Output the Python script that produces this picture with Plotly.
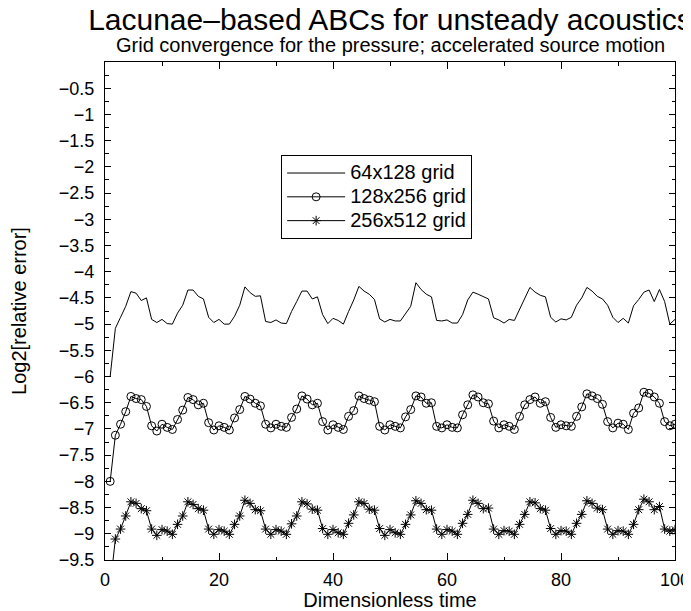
import numpy as np
import plotly.graph_objects as go

# time samples (dimensionless time), 110 samples up to t = 100
time = np.linspace(10 / 11, 100, 110)

grid_64x128 = [
    -6.00, -5.08, -4.87, -4.66, -4.38, -4.41, -4.55, -4.50, -4.91, -4.97, -4.91,
    -4.99, -5.00, -4.79, -4.64, -4.35, -4.35, -4.47, -4.52, -4.87, -4.97, -4.91,
    -5.00, -5.00, -4.85, -4.64, -4.29, -4.40, -4.47, -4.46, -4.95, -4.97, -4.92,
    -4.98, -4.99, -4.76, -4.57, -4.37, -4.37, -4.52, -4.48, -4.82, -4.99, -4.89,
    -4.93, -5.00, -4.76, -4.54, -4.28, -4.37, -4.43, -4.53, -4.90, -4.96, -4.91,
    -4.94, -4.94, -4.79, -4.66, -4.21, -4.34, -4.43, -4.48, -4.93, -4.94, -4.92,
    -4.98, -4.98, -4.82, -4.54, -4.39, -4.43, -4.47, -4.52, -4.88, -4.92, -4.98,
    -4.91, -4.93, -4.73, -4.51, -4.30, -4.39, -4.45, -4.48, -4.87, -4.96, -4.90,
    -4.92, -4.87, -4.64, -4.50, -4.30, -4.37, -4.47, -4.52, -4.64, -4.87, -4.97,
    -4.89, -4.98, -4.65, -4.53, -4.39, -4.35, -4.57, -4.34, -4.57, -5.00, -4.91,
]

grid_128x256 = [
    -8.00, -7.12, -6.91, -6.67, -6.38, -6.42, -6.44, -6.57, -6.94, -7.04, -6.91,
    -6.97, -7.01, -6.82, -6.64, -6.40, -6.44, -6.54, -6.51, -6.88, -7.02, -6.94,
    -6.97, -7.02, -6.79, -6.63, -6.38, -6.43, -6.51, -6.56, -6.91, -6.98, -6.91,
    -6.95, -6.97, -6.78, -6.62, -6.37, -6.43, -6.54, -6.51, -6.86, -7.02, -6.92,
    -6.97, -7.01, -6.76, -6.65, -6.37, -6.42, -6.45, -6.48, -6.95, -7.02, -6.92,
    -6.95, -6.98, -6.77, -6.63, -6.37, -6.39, -6.51, -6.50, -6.95, -6.98, -6.92,
    -6.97, -6.98, -6.73, -6.54, -6.35, -6.39, -6.50, -6.52, -6.85, -6.98, -6.92,
    -6.95, -7.01, -6.76, -6.54, -6.44, -6.39, -6.51, -6.48, -6.78, -6.97, -6.92,
    -6.94, -6.95, -6.76, -6.58, -6.33, -6.37, -6.42, -6.53, -6.86, -6.98, -6.89,
    -6.91, -7.01, -6.70, -6.60, -6.30, -6.32, -6.39, -6.51, -6.86, -6.94, -6.91,
]

grid_256x512 = [
    -10.00, -9.10, -8.91, -8.66, -8.39, -8.42, -8.52, -8.56, -8.91, -9.03, -8.92,
    -8.95, -9.01, -8.82, -8.66, -8.39, -8.44, -8.52, -8.55, -8.91, -9.01, -8.92,
    -8.95, -9.01, -8.82, -8.66, -8.36, -8.42, -8.54, -8.56, -8.91, -9.01, -8.92,
    -8.95, -9.01, -8.81, -8.66, -8.39, -8.43, -8.53, -8.55, -8.90, -9.01, -8.92,
    -8.98, -9.01, -8.80, -8.64, -8.39, -8.42, -8.53, -8.55, -8.90, -9.03, -8.92,
    -8.98, -9.01, -8.82, -8.64, -8.37, -8.42, -8.54, -8.55, -8.91, -9.01, -8.92,
    -8.95, -9.01, -8.80, -8.63, -8.36, -8.42, -8.52, -8.51, -8.91, -9.01, -8.94,
    -8.95, -9.01, -8.82, -8.63, -8.39, -8.41, -8.52, -8.55, -8.90, -9.01, -8.94,
    -8.95, -9.01, -8.80, -8.63, -8.37, -8.42, -8.51, -8.54, -8.91, -9.01, -8.94,
    -8.95, -9.01, -8.82, -8.54, -8.34, -8.39, -8.54, -8.48, -8.91, -8.95, -8.92,
]

series_names = ["64x128 grid", "128x256 grid", "256x512 grid"]
y_tick_values = [-9.5, -9, -8.5, -8, -7.5, -7, -6.5, -6, -5.5, -5, -4.5, -4,
                 -3.5, -3, -2.5, -2, -1.5, -1, -0.5]
y_tick_labels = ["−9.5", "−9", "−8.5", "−8", "−7.5", "−7", "−6.5", "−6", "−5.5",
                 "−5", "−4.5", "−4", "−3.5", "−3", "−2.5", "−2", "−1.5", "−1", "−0.5"]

FONT = "Liberation Sans, Arial, Helvetica, sans-serif"

# the page adds an 8 px body margin, so the figure is 8 px smaller than the window
W, H = 683, 603


def legend_label(text):
    # legend rows keep a compact spacing while the label text is drawn larger
    return '<span style="font-size:20px">' + text + "</span>"


fig = go.Figure()
fig.add_trace(go.Scatter(
    x=time, y=grid_64x128, mode="lines", name=legend_label(series_names[0]),
    line=dict(color="black", width=1),
))
fig.add_trace(go.Scatter(
    x=time, y=grid_128x256, mode="lines+markers", name=legend_label(series_names[1]),
    line=dict(color="black", width=1),
    marker=dict(symbol="circle-open", size=8, color="black", line=dict(width=1)),
))
fig.add_trace(go.Scatter(
    x=time, y=grid_256x512, mode="lines+markers", name=legend_label(series_names[2]),
    line=dict(color="black", width=1),
    marker=dict(symbol="asterisk-open", size=8, color="black", line=dict(width=1)),
))

fig.update_layout(
    width=W, height=H,
    margin=dict(l=97, r=16, t=54, b=51),
    paper_bgcolor="white", plot_bgcolor="white",
    font=dict(family=FONT, color="black", size=18),
    title=dict(
        text="Lacunae–based ABCs for unsteady acoustics",
        font=dict(family=FONT, size=30, color="black"),
        x=0.5, xref="paper", xanchor="center",
        y=1 - 11 / H, yref="container", yanchor="middle",
    ),
    showlegend=True,
    legend=dict(
        x=0.309, y=0.813, xanchor="left", yanchor="top",
        bgcolor="white", bordercolor="black", borderwidth=1,
        font=dict(family=FONT, size=16, color="black"),
        itemwidth=58, tracegroupgap=0,
    ),
    annotations=[dict(
        text="Grid convergence for the pressure; accelerated source motion",
        x=0.5, xref="paper", xanchor="center",
        y=1 + 17 / 498, yref="paper", yanchor="middle",
        showarrow=False, font=dict(family=FONT, size=20, color="black"),
    )],
)

fig.update_xaxes(
    range=[0, 100], dtick=20, tick0=0,
    ticks="inside", ticklen=7, tickcolor="black",
    minor=dict(dtick=10, ticks="inside", ticklen=3.5, tickcolor="black"),
    showline=True, linecolor="black", linewidth=1, mirror="ticks",
    showgrid=False, zeroline=False, automargin=False,
    tickfont=dict(size=18), ticklabelstandoff=3,
    title=dict(text="Dimensionless time", font=dict(size=20), standoff=3),
)
fig.update_yaxes(
    range=[-9.5, 0], tickmode="array",
    tickvals=y_tick_values, ticktext=y_tick_labels,
    ticks="inside", ticklen=6, tickcolor="black",
    minor=dict(dtick=0.25, tick0=-9.5, ticks="inside", ticklen=3.5, tickcolor="black"),
    showline=True, linecolor="black", linewidth=1, mirror="ticks",
    showgrid=False, zeroline=False, automargin=False,
    tickfont=dict(size=18), ticklabelstandoff=6,
    title=dict(text="Log2[relative error]", font=dict(size=20), standoff=26),
)

fig.write_html("out.html")
